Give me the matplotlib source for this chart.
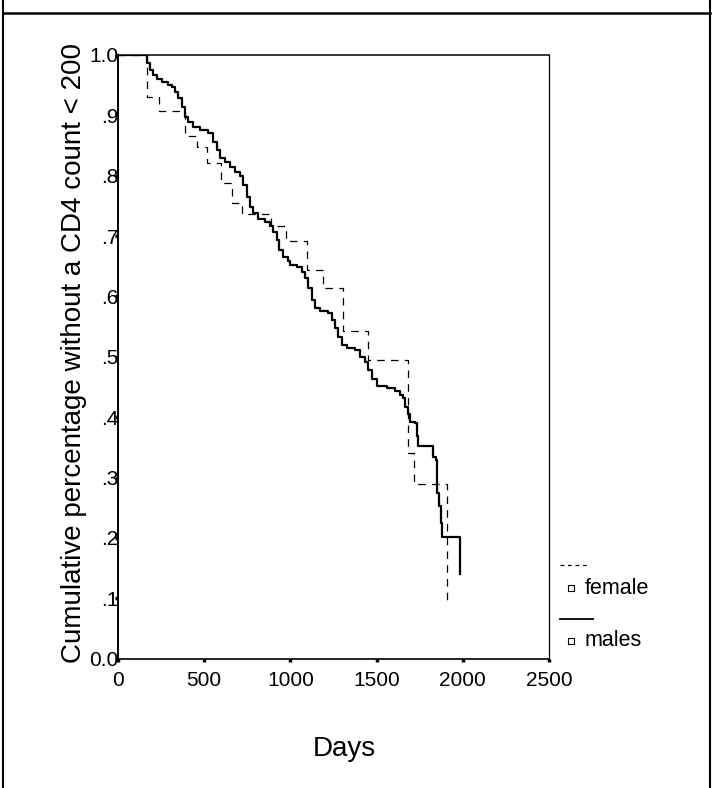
import matplotlib
matplotlib.use("Agg")
import matplotlib.pyplot as plt
from matplotlib.lines import Line2D

plt.rcParams["font.family"] = ["Liberation Sans", "DejaVu Sans"]

# Kaplan-Meier steps (day of drop, survival after drop)
female_days = [0, 168, 238, 388, 458, 516, 600, 664, 722, 890, 974, 1096,
               1189, 1305, 1449, 1681, 1716, 1906]
female_surv = [1.0, 0.931, 0.907, 0.866, 0.848, 0.821, 0.788, 0.755, 0.736,
               0.716, 0.692, 0.644, 0.614, 0.542, 0.495, 0.341, 0.290, 0.094]

male_days = [0, 166, 186, 205, 224, 253, 292, 311, 330, 350,
             369, 388, 408, 437, 475, 524, 553, 572, 591, 620,
             649, 678, 707, 726, 746, 765, 784, 813, 852, 881,
             900, 920, 933, 958, 987, 997, 1036, 1065, 1084, 1103,
             1123, 1142, 1171, 1219, 1239, 1258, 1277, 1297, 1326, 1374,
             1403, 1432, 1451, 1471, 1500, 1558, 1606, 1635, 1654, 1664,
             1683, 1693, 1722, 1732, 1737, 1742, 1825, 1844, 1848, 1851,
             1863, 1871, 1877, 1983]
male_surv = [1.0, 0.986, 0.975, 0.967, 0.960, 0.956, 0.951, 0.947, 0.939, 0.928,
             0.914, 0.898, 0.889, 0.881, 0.876, 0.870, 0.856, 0.843, 0.829, 0.823,
             0.815, 0.806, 0.800, 0.785, 0.765, 0.749, 0.738, 0.729, 0.724, 0.716,
             0.707, 0.694, 0.677, 0.666, 0.658, 0.652, 0.648, 0.641, 0.631, 0.614,
             0.594, 0.581, 0.576, 0.572, 0.561, 0.547, 0.533, 0.520, 0.514, 0.511,
             0.500, 0.492, 0.478, 0.464, 0.452, 0.448, 0.444, 0.437, 0.431, 0.417,
             0.406, 0.392, 0.390, 0.379, 0.368, 0.353, 0.334, 0.329, 0.296, 0.274,
             0.252, 0.225, 0.201, 0.140]

x_ticks = [0, 500, 1000, 1500, 2000, 2500]
y_ticks = [0.0, 0.1, 0.2, 0.3, 0.4, 0.5, 0.6, 0.7, 0.8, 0.9, 1.0]
y_tick_labels = ["0.0", ".1", ".2", ".3", ".4", ".5", ".6", ".7", ".8", ".9", "1.0"]

W, H = 713, 788
fig = plt.figure(figsize=(W / 100, H / 100), dpi=100)


def fx(px):
    return px / W


def fy(py):
    return 1 - py / H


ax = fig.add_axes([fx(118), fy(658.6), fx(549) - fx(118), fy(55) - fy(658.6)])

ax.step(female_days, female_surv, where="post", color="black", lw=0.9,
        linestyle=(0, (6, 5)))
ax.step(male_days, male_surv, where="post", color="black", lw=1.6)

ax.set_xlim(0, 2500)
ax.set_ylim(0, 1.0)
ax.set_xticks(x_ticks)
ax.set_yticks(y_ticks)
ax.set_yticklabels(y_tick_labels)
ax.tick_params(axis="x", direction="out", length=2.5, width=2.5, pad=6.5,
               labelsize=15)
ax.tick_params(axis="y", direction="out", length=2.5, width=2.5, pad=-3,
               labelsize=15)

ax.spines["left"].set_linewidth(1.4)
ax.spines["bottom"].set_linewidth(1.2)
ax.spines["top"].set_linewidth(1.1)
ax.spines["right"].set_linewidth(0.9)

fig.text(fx(74), fy(353), "Cumulative percentage without a CD4 count < 200",
         rotation=90, ha="center", va="center", fontsize=20)
fig.text(fx(344), fy(749), "Days", ha="center", va="center", fontsize=20)

# legend drawn by hand, SPSS style
fig.add_artist(Line2D([fx(560), fx(588)], [fy(565), fy(565)], color="black",
                      lw=0.9, linestyle=(0, (3, 3))))
fig.add_artist(Line2D([fx(571)], [fy(588)], marker="s", markersize=4.5,
                      markerfacecolor="white", markeredgecolor="black",
                      markeredgewidth=0.8))
fig.text(fx(585), fy(588), "female", ha="left", va="center", fontsize=15.5)
fig.add_artist(Line2D([fx(560), fx(593)], [fy(619), fy(619)], color="black",
                      lw=1.3))
fig.add_artist(Line2D([fx(571)], [fy(641)], marker="s", markersize=4.5,
                      markerfacecolor="white", markeredgecolor="black",
                      markeredgewidth=0.8))
fig.text(fx(585), fy(641), "males", ha="left", va="center", fontsize=15.5)

# outer frame of the panel
fig.add_artist(Line2D([fx(3), fx(710)], [fy(13), fy(13)], color="black", lw=1.8))
fig.add_artist(Line2D([fx(3), fx(3)], [0, 1], color="black", lw=1.5))
fig.add_artist(Line2D([fx(710), fx(710)], [0, 1], color="black", lw=1.5))

plt.savefig("out.png", dpi=100)
